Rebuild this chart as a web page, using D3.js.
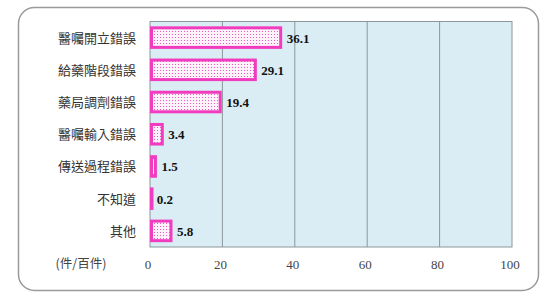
<!DOCTYPE html>
<html>
<head>
<meta charset="utf-8">
<script src="https://cdn.jsdelivr.net/npm/d3@7"></script>
<style>
  html, body { margin: 0; padding: 0; background: #fff; }
  svg { display: block; }
</style>
</head>
<body>
<svg id="chart" width="553" height="298"></svg>
<script>
const categories = ["醫囑開立錯誤", "給藥階段錯誤", "藥局調劑錯誤", "醫囑輸入錯誤", "傳送過程錯誤", "不知道", "其他"]
const values = [36.1, 29.1, 19.4, 3.4, 1.5, 0.2, 5.8]
const ticks = [0, 20, 40, 60, 80, 100]
const unitLabel = "(件/百件)"

const svg = d3.select("#chart")
const plot = {left: 150, right: 512, top: 21.5, bottom: 247}

// outer rounded frame
svg.append("rect")
  .attr("x", 18.5).attr("y", 7.5)
  .attr("width", 520).attr("height", 283)
  .attr("rx", 16).attr("ry", 16)
  .attr("fill", "#fff")
  .attr("stroke", "#9a9a9a")
  .attr("stroke-width", 1.5)

// dotted fill
const defs = svg.append("defs")
const pat = defs.append("pattern")
  .attr("id", "dots")
  .attr("patternUnits", "userSpaceOnUse")
  .attr("width", 3).attr("height", 3)
pat.append("rect").attr("width", 3).attr("height", 3).attr("fill", "#fdf2f9")
pat.append("rect").attr("x", 1).attr("y", 1).attr("width", 1).attr("height", 1).attr("fill", "#ea5cc0")

const x = d3.scaleLinear().domain([0, 100]).range([plot.left, plot.right])
const y = d3.scaleBand().domain(categories).range([plot.top, plot.bottom]).paddingInner(0.3).paddingOuter(0.15)

svg.append("rect")
  .attr("x", plot.left).attr("y", plot.top)
  .attr("width", plot.right - plot.left).attr("height", plot.bottom - plot.top)
  .attr("fill", "#daedf4")

svg.append("g")
  .selectAll("line")
  .data(ticks.slice(1, -1))
  .join("line")
  .attr("x1", (d) => x(d)).attr("x2", (d) => x(d))
  .attr("y1", plot.top).attr("y2", plot.bottom)
  .attr("stroke", "#8c979b")
  .attr("stroke-width", 1)

svg.append("rect")
  .attr("x", plot.left).attr("y", plot.top)
  .attr("width", plot.right - plot.left).attr("height", plot.bottom - plot.top)
  .attr("fill", "none")
  .attr("stroke", "#8c979b")
  .attr("stroke-width", 1)

svg.append("g")
  .selectAll("rect")
  .data(values)
  .join("rect")
  .attr("x", x(0) + 1.5)
  .attr("y", (d, i) => y(categories[i]) + 1.5)
  .attr("width", (d) => Math.max(0.5, x(d) - x(0) - 1.5))
  .attr("height", y.bandwidth() - 3)
  .attr("fill", "url(#dots)")
  .attr("stroke", "#f23cc0")
  .attr("stroke-width", 3)

svg.append("g")
  .selectAll("text")
  .data(values)
  .join("text")
  .attr("x", (d) => x(d) + 6)
  .attr("y", (d, i) => y(categories[i]) + y.bandwidth() / 2 + 5)
  .attr("font-family", "'Liberation Serif', 'Times New Roman', serif")
  .attr("font-weight", "bold")
  .attr("font-size", 13)
  .attr("fill", "#111")
  .text((d) => d.toFixed(1))

svg.append("g")
  .selectAll("text")
  .data(categories)
  .join("text")
  .attr("x", 136)
  .attr("y", (d) => y(d) + y.bandwidth() / 2 + 5)
  .attr("text-anchor", "end")
  .attr("font-family", "'Noto Sans CJK TC', sans-serif")
  .attr("font-size", 13)
  .attr("fill", "#333")
  .text((d) => d)

svg.append("g")
  .selectAll("text")
  .data(ticks)
  .join("text")
  .attr("x", (d) => x(d) - 2)
  .attr("y", 269)
  .attr("text-anchor", "middle")
  .attr("font-family", "'Liberation Serif', 'Times New Roman', serif")
  .attr("font-size", 13)
  .attr("fill", "#444")
  .text((d) => d)

svg.append("text")
  .attr("x", 81)
  .attr("y", 268)
  .attr("text-anchor", "middle")
  .attr("font-family", "'Noto Sans CJK TC', sans-serif")
  .attr("font-size", 12.5)
  .attr("fill", "#444")
  .text(unitLabel)
</script>
</body>
</html>
